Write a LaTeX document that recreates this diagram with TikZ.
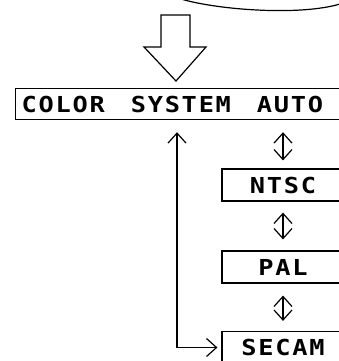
\documentclass[tikz,border=0pt]{standalone}
\usepackage{fontspec}
\usetikzlibrary{arrows.meta,positioning}
\newfontfamily\osdfont{DejaVu Sans Mono}[FakeStretch=1.15,LetterSpace=8]
\newcommand{\gap}{\hspace*{26pt}}
\tikzset{
  menubox/.style={draw,line width=1.2pt,minimum height=32pt,inner xsep=6pt,inner ysep=4pt,font=\osdfont\bfseries\fontsize{22}{24}\selectfont},
  modebox/.style={menubox,minimum width=122pt,align=center},
}
\begin{document}
\begin{tikzpicture}[x=1pt,y=-1pt,
    arr/.style={line width=1.2pt,{Straight Barb[length=10pt,width=18pt]}-{Straight Barb[length=10pt,width=18pt]}},
  ]
  \useasboundingbox (0,0) rectangle (339,361);
  \clip (0,0) rectangle (339,361);

  % remote outline and press arrow
  \draw[line width=1.2pt] (181,-1) .. controls (218,10) and (300,16) .. (340,4);
  \draw[line width=1.2pt] (161,15) -- (161,47) -- (144,47) -- (176,81) -- (206,47) -- (190,47) -- (190,15) -- cycle;

  % menu
  \node[menubox,anchor=north west,text width=320pt,align=left,minimum height=31pt] (auto) at (15,88) {COLOR\gap SYSTEM\gap AUTO};
  \node[modebox] (ntsc) at (283,185) {NTSC};
  \node[modebox] (pal) at (283,267) {PAL};
  \node[modebox] (secam) at (283,347.5) {SECAM};

  \draw[arr,shorten <=12pt,shorten >=8pt] (ntsc.north |- auto.south) -- (ntsc.north);
  \draw[arr,shorten <=11pt,shorten >=11pt] (ntsc.south) -- (pal.north);
  \draw[arr,shorten <=12pt,shorten >=10pt] (pal.south) -- (secam.north);

  % back to auto
  \coordinate (loop) at (177,348);
  \draw[arr,shorten <=12pt,shorten >=4pt] (auto.south -| loop) |- (secam.west);
\end{tikzpicture}
\end{document}
